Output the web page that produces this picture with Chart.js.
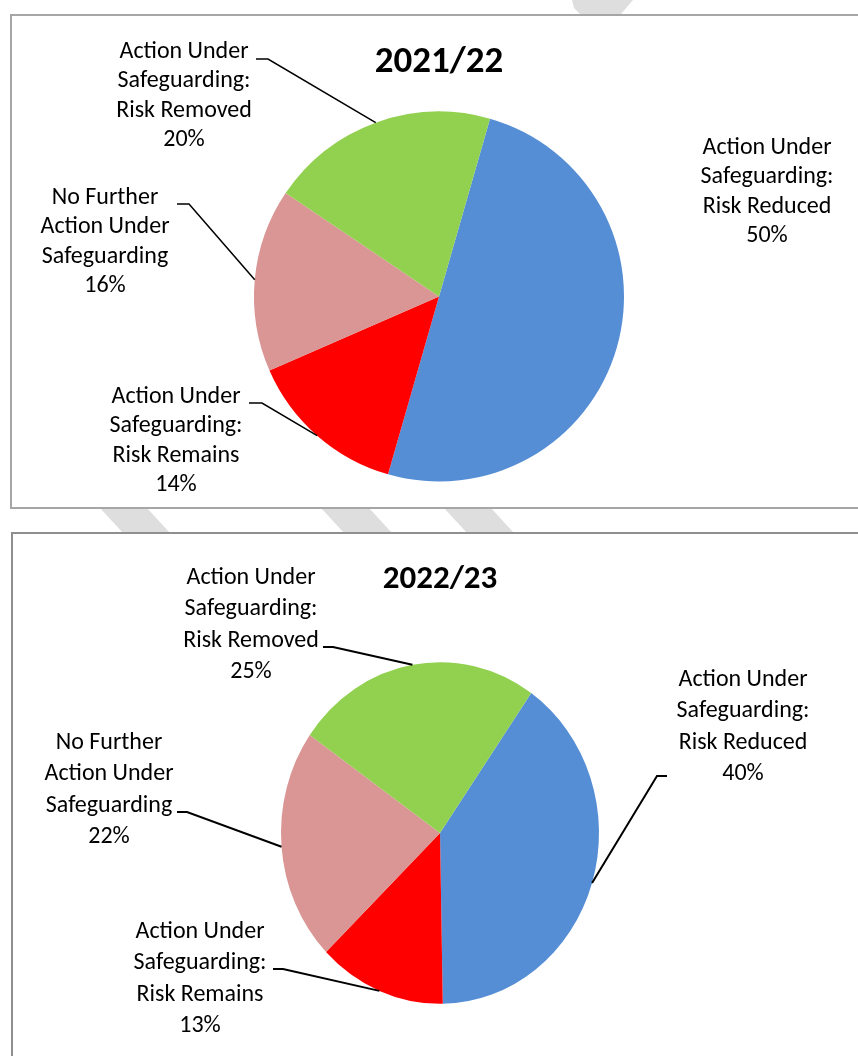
<!DOCTYPE html>
<html>
<head>
<meta charset="utf-8">
<title>Safeguarding outcomes 2021/22 and 2022/23</title>
<script src="https://cdn.jsdelivr.net/npm/chart.js@4.4.1/dist/chart.umd.min.js"></script>
<style>
  html, body { margin:0; padding:0; background:#fff; }
  #page { position:relative; width:858px; height:1056px; overflow:hidden; }
  .mark { position:absolute; left:0; top:0; width:858px; height:1056px; background:#dedede; }
  .box { position:absolute; background:#fff; }
  #box1 { left:10px; top:14px; width:900px; height:491px; border:2px solid #a6a6a6; }
  #box2 { left:11px; top:532px; width:900px; height:600px; border:2px solid #8f8f8f; }
  canvas { position:absolute; left:0; }
  #pie1 { top:0; }
  #pie2 { top:520px; }
</style>
</head>
<body>
<div id="page">
  <!-- pieces of the grey watermark showing between the boxes -->
  <div class="mark" style="clip-path:polygon(572px 0,633px 0,621px 14px,580px 14px,574px 8px)"></div>
  <div class="mark" style="clip-path:polygon(100px 508px,147px 508px,170px 533px,123px 533px)"></div>
  <div class="mark" style="clip-path:polygon(321px 508px,369px 508px,392px 533px,344px 533px)"></div>
  <div class="mark" style="clip-path:polygon(444px 508px,491px 508px,514px 533px,467px 533px)"></div>
  <div class="box" id="box1"></div>
  <div class="box" id="box2"></div>
  <canvas id="pie1" width="858" height="520"></canvas>
  <canvas id="pie2" width="858" height="536"></canvas>
</div>
<script>
// --- data ---
const categories = [
  ['Action Under', 'Safeguarding:', 'Risk Reduced'],
  ['Action Under', 'Safeguarding:', 'Risk Remains'],
  ['No Further', 'Action Under', 'Safeguarding'],
  ['Action Under', 'Safeguarding:', 'Risk Removed']
];
const titles = ['2021/22', '2022/23'];
const values2122 = [50, 14, 16, 20];
const values2223 = [40, 13, 22, 25];
const sliceColors = ['#558ED5', '#FF0000', '#D99694', '#92D050'];

const FONT = 'Carlito, Lato, "Open Sans", sans-serif';

// draws the title, the data labels and the leader lines (Excel style callouts)
const calloutPlugin = {
  id: 'callouts',
  beforeDatasetsDraw(chart, args, opts){
    // squash the pie into an ellipse when the chart asks for it
    const arc = chart.getDatasetMeta(0).data[0];
    const ctx = chart.ctx;
    ctx.save();
    ctx.translate(arc.x, arc.y);
    ctx.scale(1, opts.stretchY);
    ctx.translate(-arc.x, -arc.y);
  },
  afterDatasetsDraw(chart, args, opts){
    chart.ctx.restore();
  },
  afterDraw(chart, args, opts){
    const ctx = chart.ctx;
    const meta = chart.getDatasetMeta(0);
    const values = chart.data.datasets[0].data;
    ctx.save();
    ctx.fillStyle = '#000';
    ctx.textAlign = 'center';
    ctx.textBaseline = 'alphabetic';

    // title
    ctx.font = 'bold ' + opts.titleSize + 'px ' + FONT;
    ctx.fillText(opts.title, opts.titlePos[0], opts.titlePos[1]);

    ctx.font = opts.fontSize + 'px ' + FONT;
    ctx.strokeStyle = '#000';
    ctx.lineWidth = opts.lineWidth;
    meta.data.forEach((el, i)=>{
      const spot = opts.labels[i];
      const lines = categories[i].concat([values[i] + '%']);
      lines.forEach((t, k)=> ctx.fillText(t, spot.x, spot.y + k*opts.lineHeight));
      if(!spot.leader) return;
      const p = el.getProps(['x', 'y', 'startAngle', 'endAngle', 'outerRadius'], true);
      const mid = (p.startAngle + p.endAngle) / 2;
      const ex = p.x + Math.cos(mid) * p.outerRadius;
      const ey = p.y + Math.sin(mid) * p.outerRadius * opts.stretchY;
      ctx.beginPath();
      ctx.moveTo(spot.leader[0], spot.leader[1]);
      ctx.lineTo(spot.leader[2], spot.leader[3]);
      ctx.lineTo(ex, ey);
      ctx.stroke();
    });
    ctx.restore();
  }
};

function makePie(canvasId, values, setup){
  return new Chart(document.getElementById(canvasId), {
    type: 'pie',
    data: {
      labels: categories.map(c=>c.join(' ')),
      datasets: [{
        data: values,
        backgroundColor: sliceColors,
        borderWidth: 0,
        radius: setup.radius
      }]
    },
    options: {
      responsive: false,
      animation: false,
      events: [],
      rotation: setup.rotation,
      layout: { padding: setup.padding },
      plugins: {
        legend: { display:false },
        tooltip: { enabled:false },
        callouts: setup.callouts
      }
    },
    plugins: [calloutPlugin]
  });
}

makePie('pie1', values2122, {
  radius: 185,
  rotation: 16,
  padding: { left:254, right:234, top:111, bottom:38 },
  callouts: {
    title: titles[0], titleSize: 37, titlePos: [439, 72],
    fontSize: 24, lineHeight: 29.3, lineWidth: 1.5, stretchY: 1,
    labels: [
      { x:767, y:154 },
      { x:176, y:403, leader:[249,403, 262,403] },
      { x:105, y:204, leader:[177,204, 189,204] },
      { x:184, y:58,  leader:[256,59, 268,59] }
    ]
  }
});

makePie('pie2', values2223, {
  radius: 159,
  rotation: 35,
  padding: { left:281, right:259, top:154, bottom:64 },
  callouts: {
    title: titles[1], titleSize: 33, titlePos: [440, 68],
    fontSize: 24, lineHeight: 31.3, lineWidth: 2, stretchY: 1.074,
    labels: [
      { x:743, y:166, leader:[667,256, 657,256] },
      { x:200, y:418, leader:[273,449, 283,449] },
      { x:109, y:229, leader:[177,292, 187,292] },
      { x:251, y:64,  leader:[323,127, 333,127] }
    ]
  }
});
</script>
</body>
</html>
